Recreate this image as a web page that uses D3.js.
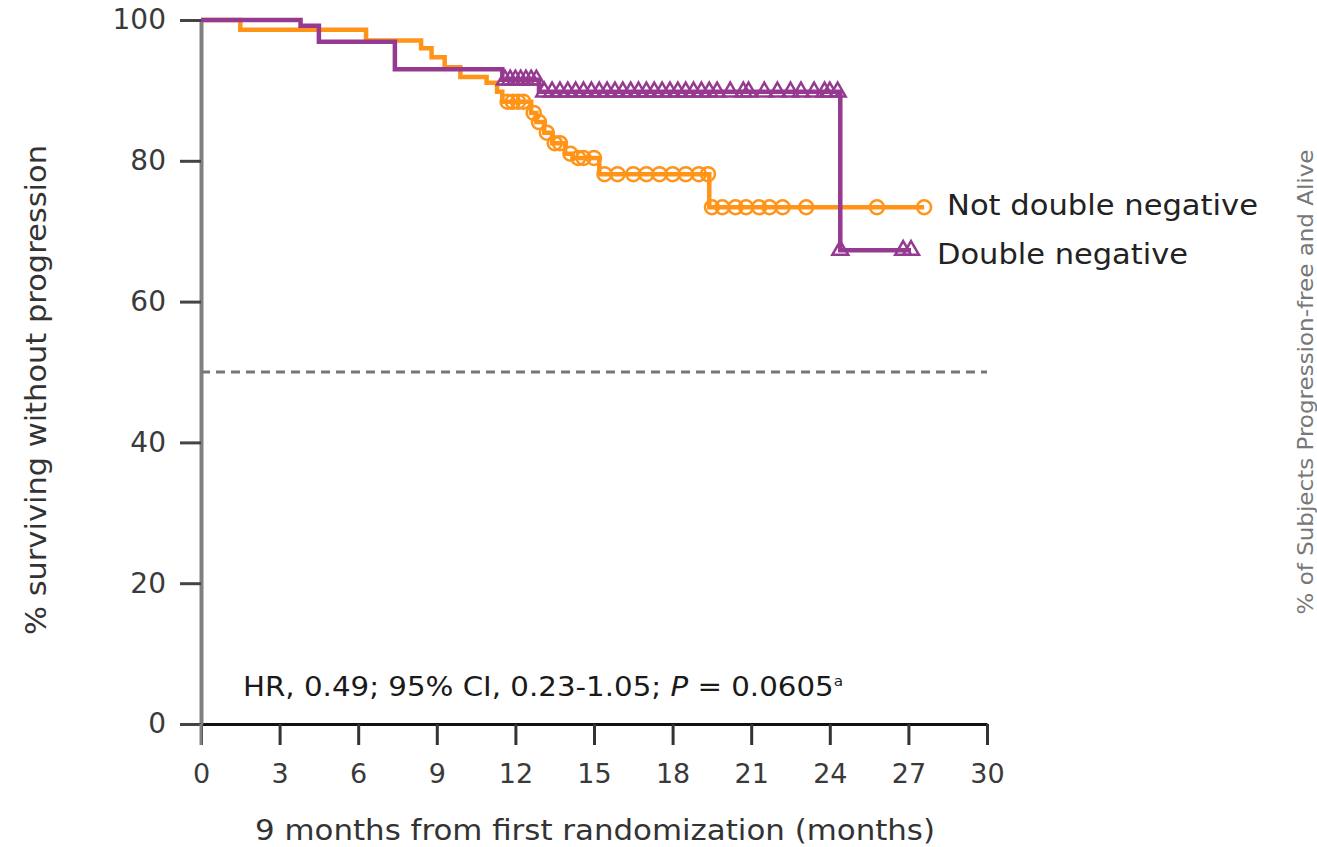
<!DOCTYPE html>
<html>
<head>
<meta charset="utf-8">
<script src="https://cdn.jsdelivr.net/npm/d3@7"></script>
<style>
  body { margin: 0; background: #fff; }
  svg text { font-family: "DejaVu Sans", sans-serif; }
</style>
</head>
<body>
<div id="chart-area"></div>
<script>
// SVG size
let width = 1317,
	height = 847;

// Kaplan-Meier steps (months, % progression-free)
let notDnTimes = [0, 1.5, 6.3, 8.4, 8.8, 9.3, 9.9, 10.9, 11.3, 11.5, 12.6, 12.8, 13.1, 13.4, 13.9, 14.2, 15.2, 19.4, 27.6];
let notDnSurv  = [100, 98.6, 97.1, 96.0, 94.7, 93.3, 91.9, 91.1, 89.8, 88.4, 86.8, 85.5, 84.0, 82.5, 81.0, 80.4, 78.1, 73.4, 73.4];
let notDnCensor = [11.7, 11.9, 12.1, 12.3, 12.7, 12.9, 13.2, 13.5, 13.7, 14.1, 14.4, 14.6, 15.0, 15.4, 15.9, 16.5, 17.0, 17.5,
	18.0, 18.5, 19.0, 19.35, 19.5, 19.9, 20.4, 20.8, 21.3, 21.7, 22.2, 23.1, 25.8, 27.6];

let dnTimes = [0, 3.8, 4.5, 7.4, 11.5, 12.9, 24.4, 27.1];
let dnSurv  = [100, 99.2, 96.9, 93.0, 91.5, 89.8, 67.3, 67.3];
let dnCensor = [11.6, 11.8, 12.0, 12.2, 12.4, 12.6, 12.8, 13.1, 13.4, 13.7, 14.0, 14.3, 14.6, 14.9, 15.2, 15.5, 15.8, 16.1,
	16.4, 16.7, 17.0, 17.3, 17.6, 17.9, 18.2, 18.5, 18.8, 19.1, 19.4, 19.7, 20.2, 20.7, 20.9, 21.5, 22.0, 22.5, 22.9, 23.4,
	23.8, 24.0, 24.3, 24.4, 26.8, 27.1];

let xTicks = [0, 3, 6, 9, 12, 15, 18, 21, 24, 27, 30];
let yTicks = [0, 20, 40, 60, 80, 100];
let medianLine = 50;

let orange = "#ff9419",
	purple = "#953a90";

let svg = d3.select("#chart-area").append("svg").attr("width", width).attr("height", height);

let x = d3.scaleLinear().domain([0, 30]).range([201, 987]);
let y = d3.scaleLinear().domain([0, 100]).range([724, 20]);

// value of the step curve at time t
function survAt(times, surv, t) {
	let i = d3.bisectRight(times, t) - 1;
	return surv[Math.max(0, i)];
}

// axes
let yAxis = d3.axisLeft(y).tickValues(yTicks).tickSize(21).tickSizeOuter(0).tickPadding(14);
let xAxis = d3.axisBottom(x).tickValues(xTicks).tickSize(21).tickSizeOuter(0).tickPadding(19);

let gx = svg.append("g")
	.attr("transform", "translate(0," + y(0) + ")")
	.call(xAxis);
gx.select(".domain").attr("stroke", "#111").attr("stroke-width", 3);
gx.selectAll(".tick line").attr("stroke", "#333").attr("stroke-width", 3);
gx.selectAll(".tick text").attr("font-size", 27).attr("fill", "#3a3a3a").style("font-family", "DejaVu Sans");

let gy = svg.append("g")
	.attr("transform", "translate(" + x(0) + ",0)")
	.call(yAxis);
gy.select(".domain").attr("stroke", "#808080").attr("stroke-width", 4);
gy.selectAll(".tick line").attr("stroke", "#444").attr("stroke-width", 3);
gy.selectAll(".tick text").attr("font-size", 28).attr("fill", "#3a3a3a").style("font-family", "DejaVu Sans");

// gray y axis also covers the zero tick below the x axis
svg.append("line")
	.attr("x1", x(0)).attr("x2", x(0))
	.attr("y1", y(0)).attr("y2", y(0) + 21)
	.attr("stroke", "#808080").attr("stroke-width", 3);

// median reference line
svg.append("line")
	.attr("x1", x(0)).attr("x2", x(30))
	.attr("y1", y(medianLine)).attr("y2", y(medianLine))
	.attr("stroke", "#777").attr("stroke-width", 3)
	.attr("stroke-dasharray", "9,6");

// step curves
let line = d3.line().curve(d3.curveStepAfter).x(d => x(d[0])).y(d => y(d[1]));

svg.append("path")
	.datum(notDnTimes.map((t, i) => [t, notDnSurv[i]]))
	.attr("d", line)
	.attr("fill", "none").attr("stroke", orange).attr("stroke-width", 4.5);

svg.append("path")
	.datum(dnTimes.map((t, i) => [t, dnSurv[i]]))
	.attr("d", line)
	.attr("fill", "none").attr("stroke", purple).attr("stroke-width", 4.5);

// censor marks
svg.selectAll(".cens-o")
	.data(notDnCensor)
	.enter()
	.append("circle")
	.attr("class", "cens-o")
	.attr("cx", d => x(d))
	.attr("cy", d => y(survAt(notDnTimes, notDnSurv, d)))
	.attr("r", 7)
	.attr("fill", "none")
	.attr("stroke", orange)
	.attr("stroke-width", 2.5);

svg.selectAll(".cens-p")
	.data(dnCensor)
	.enter()
	.append("path")
	.attr("class", "cens-p")
	.attr("d", d3.symbol(d3.symbolTriangle, 110))
	.attr("transform", d => "translate(" + x(d) + "," + y(survAt(dnTimes, dnSurv, d)) + ")")
	.attr("fill", "none")
	.attr("stroke", purple)
	.attr("stroke-width", 2.5);

// series labels
svg.append("text")
	.attr("x", 947).attr("y", 215)
	.attr("font-size", 29).attr("fill", "#222")
	.attr("textLength", 311).attr("lengthAdjust", "spacingAndGlyphs")
	.text("Not double negative");

svg.append("text")
	.attr("x", 937).attr("y", 264)
	.attr("font-size", 29).attr("fill", "#222")
	.attr("textLength", 251).attr("lengthAdjust", "spacingAndGlyphs")
	.text("Double negative");

// statistics note
let note = svg.append("text")
	.attr("x", 243).attr("y", 696)
	.attr("font-size", 27).attr("fill", "#1a1a1a")
	.attr("textLength", 600).attr("lengthAdjust", "spacingAndGlyphs");
note.append("tspan").text("HR, 0.49; 95% CI, 0.23-1.05; ");
note.append("tspan").attr("font-style", "italic").text("P");
note.append("tspan").text(" = 0.0605");
note.append("tspan").attr("font-size", 14).attr("dy", -10).text("a");

// axis titles
svg.append("text")
	.attr("x", 595).attr("y", 840)
	.attr("text-anchor", "middle")
	.attr("font-size", 28).attr("fill", "#333")
	.attr("textLength", 680).attr("lengthAdjust", "spacingAndGlyphs")
	.text("9 months from first randomization (months)");

svg.append("text")
	.attr("transform", "translate(46,390) rotate(-90)")
	.attr("text-anchor", "middle")
	.attr("font-size", 28).attr("fill", "#333")
	.attr("textLength", 490).attr("lengthAdjust", "spacingAndGlyphs")
	.text("% surviving without progression");

svg.append("text")
	.attr("transform", "translate(1313,382) rotate(-90)")
	.attr("text-anchor", "middle")
	.attr("font-size", 21).attr("fill", "#777")
	.attr("textLength", 465).attr("lengthAdjust", "spacingAndGlyphs")
	.text("% of Subjects Progression-free and Alive");
</script>
</body>
</html>
